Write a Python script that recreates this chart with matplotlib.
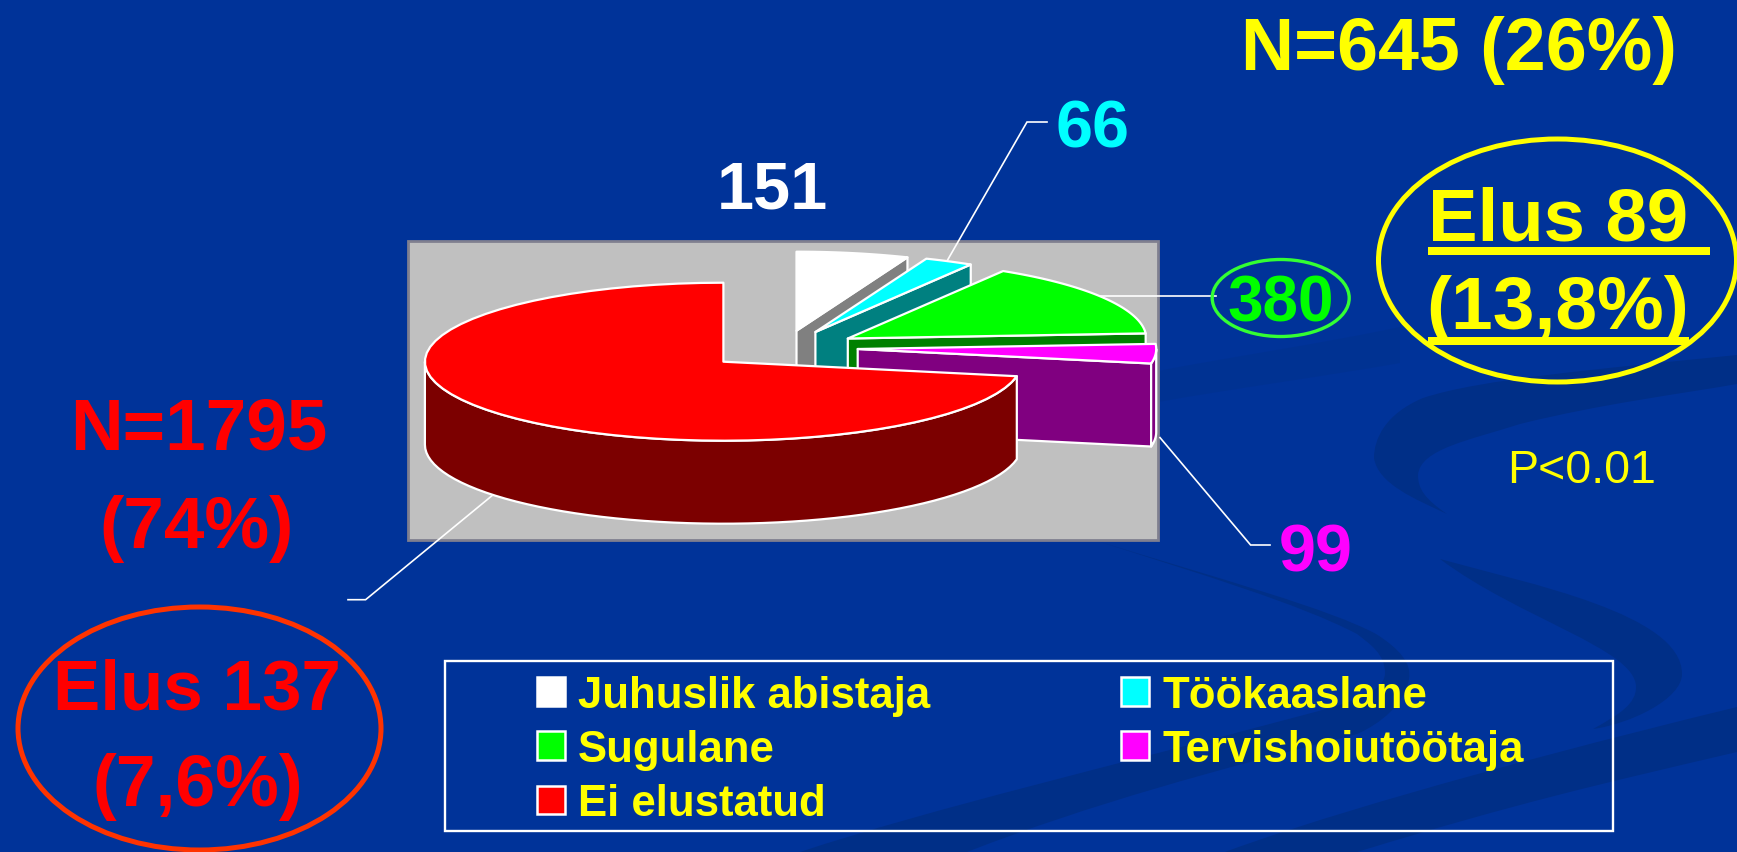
import numpy as np
import matplotlib
matplotlib.use("Agg")
import matplotlib.pyplot as plt
from matplotlib.patches import Polygon, Ellipse, Rectangle, PathPatch, Patch
from matplotlib.path import Path

plt.rcParams['font.family'] = ['Liberation Sans', 'DejaVu Sans']

# ---- data ----
categories = ["Juhuslik abistaja", "Töökaaslane", "Sugulane", "Tervishoiutöötaja", "Ei elustatud"]
values = [151, 66, 380, 99, 1795]
top_colors = ["#FFFFFF", "#00FFFF", "#00FF00", "#FF00FF", "#FF0000"]
side_colors = ["#808080", "#008080", "#008000", "#800080", "#7C0000"]
value_colors = ["#FFFFFF", "#00FFFF", "#00FF00", "#FF00FF"]

# ---- layout ----
W, H = 1737, 853
BG = "#003399"
SWOOSH = "#002F87"
SWOOSH_FAINT = "#003292"
RX, RY, DEPTH = 298.5, 79.0, 83.0
apex = [(796.5, 331.7), (815.4, 333.0), (847.8, 339.5), (857.7, 350.0), (723.4, 362.7)]

fig = plt.figure(figsize=(W / 100, H / 100), dpi=100, facecolor=BG)
ax = fig.add_axes([0, 0, 1, 1])
ax.set_xlim(0, W)
ax.set_ylim(H, 0)
ax.axis("off")

M, C, L = Path.MOVETO, Path.CURVE4, Path.LINETO


def swoosh(verts, codes, color=SWOOSH):
    ax.add_patch(PathPatch(Path(verts, codes), fc=color, ec="none", zorder=0))


# straight band, lower right
swoosh([(1737, 708), (1470, 773), (1300, 825), (1225, 853), (1357, 853), (1517, 804), (1600, 785), (1737, 753)],
       [M, C, C, C, L, C, C, C])
# band from below the panel, turning back to the lower left
swoosh([(1094, 541), (1220, 580), (1330, 610), (1376, 635),
        (1400, 650), (1412, 665), (1409, 680),
        (1405, 705), (1380, 725), (1357, 735),
        (1220, 770), (1090, 805), (967, 853), (800, 853),
        (930, 810), (1120, 765), (1300, 717),
        (1345, 705), (1385, 695), (1385, 674),
        (1385, 655), (1370, 645), (1357, 635),
        (1300, 605), (1200, 575), (1094, 541)],
       [M] + [C] * 12 + [L] + [C] * 12)
# crescent
swoosh([(1440, 560), (1530, 585), (1682, 615), (1682, 675),
        (1682, 700), (1630, 725), (1593, 730),
        (1620, 715), (1636, 705), (1636, 688),
        (1636, 650), (1520, 620), (1440, 560)],
       [M] + [C] * 12)
# ring at the right edge
swoosh([(1737, 356), (1600, 370), (1480, 380), (1423, 399),
        (1385, 415), (1374, 440), (1374, 459),
        (1378, 485), (1415, 500), (1447, 515),
        (1425, 500), (1418, 490), (1418, 476),
        (1420, 450), (1470, 441), (1520, 425),
        (1600, 405), (1680, 395), (1737, 385)],
       [M] + [C] * 18)
# faint band right of the panel
swoosh([(1158, 372), (1230, 358), (1320, 345), (1400, 328), (1400, 364), (1320, 378), (1230, 390), (1158, 403)],
       [M, C, C, C, L, C, C, C], SWOOSH_FAINT)


def arc(center, a0, a1, n=60):
    t = np.radians(np.linspace(a0, a1, n))
    return np.column_stack([center[0] + RX * np.cos(t), center[1] - RY * np.sin(t)])


# background panel
ax.add_patch(Rectangle((407.5, 242), 750, 299, fc="#C0C0C0", ec="#7F7F8F", lw=2, zorder=1))

# slice angles follow from the values (clockwise from 12 o'clock)
sweep = np.array(values) / sum(values) * 360
starts = 90 - np.concatenate([[0], np.cumsum(sweep)[:-1]])
ends = starts - sweep

z = 2
for i in range(len(values)):
    c, a0, a1 = apex[i], starts[i], ends[i]
    rim_end = arc(c, a1, a1, 1)[0]
    if i < 4:
        # cut face at the trailing edge of the slice
        face = [c, rim_end, rim_end + [0, DEPTH], np.array(c) + [0, DEPTH]]
        ax.add_patch(Polygon(face, fc=side_colors[i], ec="white", lw=1.6, joinstyle="round", zorder=z))
    # outer wall, only the part facing the viewer
    wall_top = None
    if i == 4:
        wall_top = arc(c, -180, a0)
    elif min(a0, 0) > a1:
        wall_top = arc(c, a1, min(a0, 0))
    if wall_top is not None:
        wall = np.vstack([wall_top, wall_top[::-1] + [0, DEPTH]])
        ax.add_patch(Polygon(wall, fc=side_colors[i], ec="white", lw=1.6, joinstyle="round", zorder=z))
    # top face
    top = np.vstack([[c], arc(c, a0, a1)])
    ax.add_patch(Polygon(top, fc=top_colors[i], ec="white", lw=1.6, joinstyle="round", zorder=z + 0.5))
    z += 1

# leader lines
leaders = [[(1047, 123), (1027, 123), (947, 262)],
           [(1101, 297), (1216, 297)],
           [(1160, 438.6), (1250.6, 546), (1270, 546)],
           [(492, 496.7), (365.6, 600.7), (348, 600.7)]]
for pts in leaders:
    xs, ys = zip(*pts)
    ax.plot(xs, ys, color="white", lw=1.2, zorder=9, solid_joinstyle="miter")


def label(x, y, s, color, size, weight="bold"):
    ax.text(x, y, s, color=color, fontsize=size, fontweight=weight, ha="center", va="baseline", zorder=12)


YEL = "#FFFF00"
RED = "#FF0000"
label(772, 208, str(values[0]), value_colors[0], 48)
label(1092.6, 147, str(values[1]), value_colors[1], 48)
label(1280.7, 321, str(values[2]), value_colors[2], 46)
label(1316, 572, str(values[3]), value_colors[3], 48)
label(1458.5, 70, "N=645 (26%)", YEL, 53)
label(1558, 240, "Elus 89", YEL, 53.5)
label(1558, 328.6, "(13,8%)", YEL, 54)
label(1582, 483, "P<0.01", YEL, 33.5, "normal")
label(199, 450, "N=1795", RED, 52.5)
label(197, 548, "(74%)", RED, 52.5)
label(196.5, 710, "Elus 137", RED, 51)
label(197.5, 806, "(7,6%)", RED, 51.5)

# underlines
ax.add_patch(Rectangle((1428, 247.5), 282, 8.5, fc=YEL, ec="none", zorder=12))
ax.add_patch(Rectangle((1428, 337.5), 261, 8, fc=YEL, ec="none", zorder=12))

# ellipses
ax.add_patch(Ellipse((1280.7, 299), 137, 77, fc="none", ec="#33FF33", lw=2.4, zorder=11))
ax.add_patch(Ellipse((1557.5, 261.5), 358, 243, fc="none", ec=YEL, lw=3.6, zorder=11))
ax.add_patch(Ellipse((199.5, 729.5), 363, 243, fc="none", ec="#FF3300", lw=3.6, zorder=11))

# legend
ax.add_patch(Rectangle((445, 662), 1168, 170, fc="none", ec="white", lw=1.7, zorder=11))
handles = [Patch(fc=top_colors[i], ec="white", lw=1.8, label=categories[i]) for i in [0, 2, 4, 1, 3]]
leg = ax.legend(handles=handles, ncol=2, loc="upper left", bbox_to_anchor=(537, 676),
                bbox_transform=ax.transData, prop={"size": 31.5, "weight": "bold"},
                labelcolor=YEL, frameon=False, borderpad=0, labelspacing=0.3,
                handlelength=0.63, handleheight=0.63,
                handletextpad=0.3, columnspacing=4.38, borderaxespad=0)
leg.set_zorder(12)

fig.savefig("out.png", dpi=100, facecolor=BG)
